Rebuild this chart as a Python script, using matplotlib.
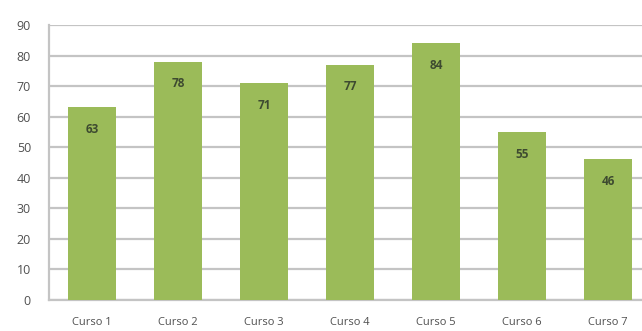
import matplotlib.pyplot as plt

cursos = ["Curso 1", "Curso 2", "Curso 3", "Curso 4", "Curso 5", "Curso 6", "Curso 7"]
valores = [63, 78, 71, 77, 84, 55, 46]
yticks = [0, 10, 20, 30, 40, 50, 60, 70, 80, 90]

plt.rcParams['font.family'] = ['Open Sans', 'DejaVu Sans']

fig = plt.figure(figsize=(6.42, 3.31), dpi=100)
# the plot area runs a little past the right edge of the figure
ax = fig.add_axes([49 / 642, 31 / 331, 602 / 642, 275 / 331])

ax.bar(range(len(cursos)), valores, width=0.56, color='#9bbb59', zorder=3)

for i, v in enumerate(valores):
    ax.annotate(str(v), (i, v), xytext=(0, -16), textcoords='offset points',
                ha='center', va='center', fontsize=8.5, fontweight='bold',
                color='#3d4a30', zorder=4)

ax.set_xlim(-0.5, len(cursos) - 0.5)
ax.set_ylim(0, 90)
ax.set_yticks(yticks)
ax.set_xticks(range(len(cursos)))
ax.set_xticklabels(cursos)
ax.yaxis.grid(True, color='#c4c4c4', linewidth=1.6, zorder=0)

for s in ['top', 'right']:
    ax.spines[s].set_visible(False)
ax.spines['left'].set_color('#c4c4c4')
ax.spines['left'].set_linewidth(1.6)
ax.spines['bottom'].set_color('#c4c4c4')
ax.spines['bottom'].set_linewidth(1.6)

ax.tick_params(axis='y', length=0, pad=13, labelsize=9, labelcolor='#505050')
ax.tick_params(axis='x', length=0, pad=12, labelsize=8, labelcolor='#505050')

fig.savefig('out.png', dpi=100)
